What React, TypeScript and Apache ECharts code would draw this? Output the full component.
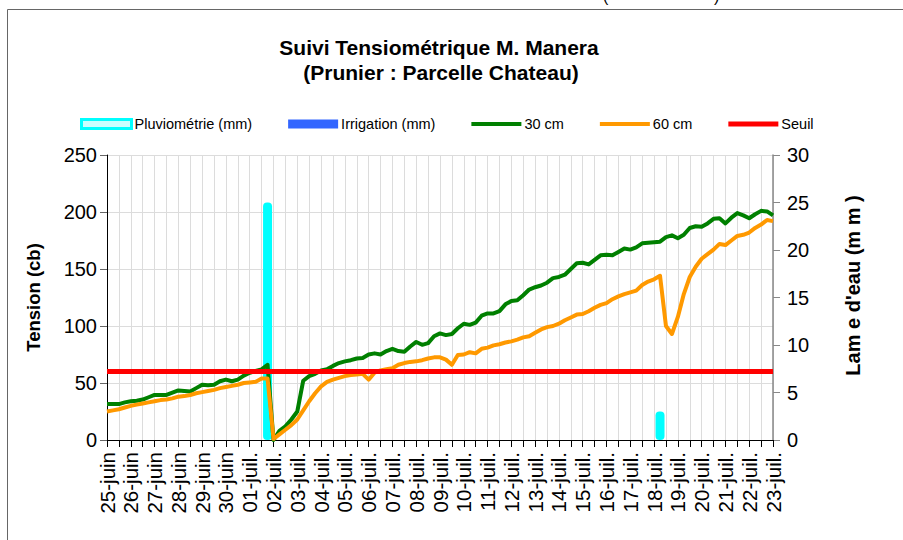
import React, { useEffect, useRef } from "react";
import * as echarts from "echarts";

// ---- Data ----
const DAYS = [
  "25-juin", "26-juin", "27-juin", "28-juin", "29-juin", "30-juin",
  "01-juil.", "02-juil.", "03-juil.", "04-juil.", "05-juil.", "06-juil.",
  "07-juil.", "08-juil.", "09-juil.", "10-juil.", "11-juil.", "12-juil.",
  "13-juil.", "14-juil.", "15-juil.", "16-juil.", "17-juil.", "18-juil.",
  "19-juil.", "20-juil.", "21-juil.", "22-juil.", "23-juil.",
];
const HOUR_SLOTS = ["00h", "06h", "12h", "18h"];

// Tension 30 cm (cb), 4 readings per day
const T30 = [
  31.5, 31.5, 31.5, 33,
  34, 34.5, 35.5, 37.5,
  39.5, 39.5, 39.5, 41.5,
  43.5, 43, 42.5, 45.5,
  48.5, 48, 48.5, 51.5,
  53, 51.5, 53, 56.5,
  59, 60.5, 62, 66,
  0, 8, 12, 18,
  25, 52, 56, 58,
  61, 62, 65, 67.5,
  69, 70, 71.5, 72,
  75, 76, 75, 78,
  80, 78, 77.5, 82,
  86, 83.5, 85, 91,
  93.5, 92, 93, 98,
  102, 101, 103, 109,
  111, 111, 113, 119,
  122, 122.5, 127, 132,
  134, 135.5, 138, 142,
  143, 145, 150, 155,
  155.5, 154, 158, 162,
  162.5, 162, 165, 168,
  167, 169, 172.5, 173,
  173.5, 174, 178, 179.5,
  177, 180, 186, 187.5,
  187, 190, 194, 194.5,
  190, 195, 199, 197,
  194.5, 198, 201, 200.5,
  197,
];

// Tension 60 cm (cb)
const T60 = [
  25, 26, 27, 28.5,
  30, 31, 32, 33,
  34, 35, 35.5, 36.5,
  38, 38.5, 39.5, 41,
  42, 43, 44, 45.5,
  46.5, 47.5, 48.5, 50,
  50.5, 51, 54, 54,
  1, 5, 9, 13,
  18, 26, 34, 41,
  47, 51, 53, 54.5,
  56, 57, 57.5, 58,
  53, 59, 61, 62,
  63, 66, 67.5, 68.5,
  69, 70, 71.5, 72.5,
  72.5, 70.5, 66, 74.5,
  75, 77, 76, 80,
  81, 83, 84, 85.5,
  86.5, 88, 90, 91,
  94, 97, 99, 100,
  102, 105, 107.5, 110,
  110.5, 113, 116, 118.5,
  120, 123.5, 126, 128,
  129.5, 131, 136, 139,
  141, 144, 100, 93,
  108, 128, 143, 152,
  159, 163, 167, 172,
  171, 175, 179, 180,
  182, 186, 189, 193,
  192,
];

const PLUVIO_AT = ["01-juil. 18h", "18-juil. 06h"];
const PLUVIO_MM = [25, 3];
const IRRIGATION_AT: string[] = [];
const IRRIGATION_MM: number[] = [];
const SEUIL = 60;

const LEFT_TICKS = { min: 0, max: 250, interval: 50 };
const RIGHT_TICKS = { min: 0, max: 30, interval: 5 };

const FONT = "'Liberation Sans', Arial, sans-serif";

const lineIcon = (h: number) => `path://M0,0L50,0L50,${h}L0,${h}Z`;

export default function App() {
  const ref = useRef<HTMLDivElement>(null);

  useEffect(() => {
    if (!ref.current) return;
    const chart = echarts.init(ref.current, undefined, { renderer: "svg" });

    const categories: string[] = [];
    DAYS.forEach((d, i) => {
      if (i < DAYS.length - 1) HOUR_SLOTS.forEach((h) => categories.push(`${d} ${h}`));
      else categories.push(`${d} ${HOUR_SLOTS[0]}`);
    });

    const option: any = {
      animation: false,
      textStyle: { fontFamily: FONT },
      graphic: [
        {
          type: "rect",
          shape: { x: 7.5, y: 9.5, width: 1000, height: 1000 },
          style: { fill: "none", stroke: "#666", lineWidth: 1 },
          silent: true,
        },
        {
          type: "text",
          x: 603, y: 4,
          style: { text: "(", fontSize: 16, fontFamily: FONT, fill: "#000", textVerticalAlign: "bottom" },
        },
        {
          type: "text",
          x: 714, y: 4,
          style: { text: ")", fontSize: 16, fontFamily: FONT, fill: "#000", textVerticalAlign: "bottom" },
        },
        {
          type: "text",
          x: 439, y: 47,
          style: {
            text: "Suivi Tensiométrique M. Manera",
            fontSize: 21, fontWeight: "bold", fontFamily: FONT, fill: "#000",
            textAlign: "center", textVerticalAlign: "middle",
          },
        },
        {
          type: "text",
          x: 441, y: 72,
          style: {
            text: "(Prunier : Parcelle Chateau)",
            fontSize: 21, fontWeight: "bold", fontFamily: FONT, fill: "#000",
            textAlign: "center", textVerticalAlign: "middle",
          },
        },
      ],
      legend: {
        left: 80,
        top: 116.5,
        padding: 0,
        itemWidth: 50,
        itemHeight: 9,
        itemGap: 36,
        symbolKeepAspect: true,
        textStyle: { fontSize: 14.5, color: "#000", fontFamily: FONT, padding: [0, 0, 0, -2] },
        data: [
          {
            name: "Pluviométrie (mm)",
            icon: "rect",
            itemStyle: { color: "#c8ffff", borderColor: "#00ffff", borderWidth: 3 },
          },
          { name: "Irrigation (mm)", icon: "rect", itemStyle: { color: "#3366ff", borderWidth: 0 } },
          { name: "30 cm", icon: lineIcon(4), itemStyle: { color: "#008000", borderWidth: 0 } },
          { name: "60 cm", icon: lineIcon(4), itemStyle: { color: "#ff9900", borderWidth: 0 } },
          { name: "Seuil", icon: lineIcon(5), itemStyle: { color: "#ff0000", borderWidth: 0 } },
        ],
      },
      grid: { left: 107, top: 155, width: 666, height: 285, containLabel: false },
      xAxis: {
        type: "category",
        data: categories,
        boundaryGap: false,
        axisLine: { lineStyle: { color: "#000", width: 1 } },
        axisTick: {
          show: true,
          length: 7,
          interval: (idx: number) => idx % 2 === 0,
          lineStyle: { color: "#000" },
        },
        axisLabel: {
          rotate: 90,
          fontSize: 20.5,
          color: "#000",
          margin: 12,
          interval: (idx: number) => idx % 4 === 0,
          formatter: (v: string) => v.split(" ")[0],
        },
        splitLine: {
          show: true,
          interval: (idx: number) => idx % 2 === 0,
          lineStyle: { color: "#dcdcdc", width: 1 },
        },
      },
      yAxis: [
        {
          type: "value",
          ...LEFT_TICKS,
          name: "Tension (cb)",
          nameLocation: "middle",
          nameRotate: 90,
          nameGap: 64,
          nameTextStyle: { fontSize: 18.5, fontWeight: "bold", color: "#000" },
          axisLine: { show: true, lineStyle: { color: "#000" } },
          axisTick: { show: true, length: 7, lineStyle: { color: "#666" } },
          axisLabel: { fontSize: 20, color: "#000", margin: 10 },
          splitLine: { show: true, lineStyle: { color: "#dcdcdc" } },
        },
        {
          type: "value",
          position: "right",
          ...RIGHT_TICKS,
          name: "Lam e d'eau (m m )",
          nameLocation: "middle",
          nameRotate: 90,
          nameGap: 70,
          nameTextStyle: { fontSize: 20, fontWeight: "bold", color: "#000", padding: [0, 0, 0, 24] },
          axisLine: { show: true, lineStyle: { color: "#888", width: 1.5 } },
          axisTick: { show: true, length: 7, lineStyle: { color: "#888" } },
          axisLabel: { fontSize: 20, color: "#000", margin: 14 },
          splitLine: { show: false },
        },
      ],
      series: [
        {
          name: "Pluviométrie (mm)",
          type: "bar",
          yAxisIndex: 1,
          barWidth: 9,
          barGap: "-100%",
          itemStyle: { color: "#00ffff", borderRadius: 4 },
          data: PLUVIO_AT.map((c, i) => [c, PLUVIO_MM[i]]),
          z: 2,
        },
        {
          name: "Irrigation (mm)",
          type: "bar",
          yAxisIndex: 1,
          barWidth: 9,
          barGap: "-100%",
          itemStyle: { color: "#3366ff" },
          data: IRRIGATION_AT.map((c, i) => [c, IRRIGATION_MM[i]]),
          z: 2,
        },
        {
          name: "30 cm",
          type: "line",
          yAxisIndex: 0,
          symbol: "none",
          lineStyle: { color: "#008000", width: 4, join: "round" },
          itemStyle: { color: "#008000" },
          data: T30,
          z: 3,
        },
        {
          name: "60 cm",
          type: "line",
          yAxisIndex: 0,
          symbol: "none",
          lineStyle: { color: "#ff9900", width: 4, join: "round" },
          itemStyle: { color: "#ff9900" },
          data: T60,
          z: 4,
        },
        {
          name: "Seuil",
          type: "line",
          yAxisIndex: 0,
          symbol: "none",
          lineStyle: { color: "#ff0000", width: 5 },
          itemStyle: { color: "#ff0000" },
          data: [],
          z: 5,
          markLine: {
            silent: true,
            symbol: ["none", "none"],
            label: { show: false },
            lineStyle: { color: "#ff0000", width: 5, type: "solid" },
            data: [{ yAxis: SEUIL }],
            z: 5,
          },
        },
      ],
    };

    chart.setOption(option);
    return () => chart.dispose();
  }, []);

  return (
    <div
      ref={ref}
      style={{ position: "fixed", left: 0, top: 0, width: 903, height: 540, background: "#fff" }}
    />
  );
}
